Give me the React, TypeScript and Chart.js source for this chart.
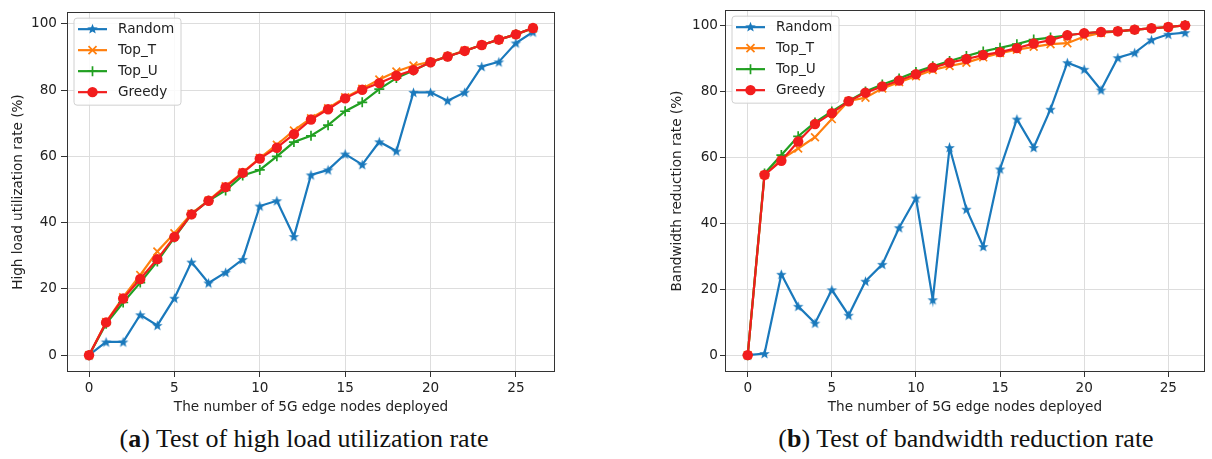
import React, { useEffect, useRef } from "react";
import { Chart, registerables } from "chart.js";

Chart.register(...registerables);

// ---------- data ----------
const NODES = [0, 1, 2, 3, 4, 5, 6, 7, 8, 9, 10, 11, 12, 13, 14, 15, 16, 17, 18, 19, 20, 21, 22, 23, 24, 25, 26];
const X_TICKS = [0, 5, 10, 15, 20, 25];
const Y_TICKS = [0, 20, 40, 60, 80, 100];
const SERIES_NAMES = ["Random", "Top_T", "Top_U", "Greedy"];

const A_RANDOM = [0, 4.0, 4.0, 12.2, 9.0, 17.2, 28.1, 21.8, 25.0, 28.9, 45.0, 46.6, 35.8, 54.4, 55.9, 60.7, 57.5, 64.4, 61.6, 79.3, 79.3, 76.8, 79.3, 87.1, 88.5, 94.2, 97.5];
const A_TOP_T = [0, 10.0, 17.5, 24.2, 31.3, 36.8, 42.7, 46.7, 51.0, 55.2, 59.5, 63.5, 67.8, 71.5, 74.5, 77.8, 80.4, 83.2, 85.6, 87.4, 88.5, 90.2, 91.9, 93.6, 95.2, 96.8, 98.6];
const A_TOP_U = [0, 9.5, 15.9, 21.9, 28.3, 35.5, 42.5, 46.6, 49.7, 54.2, 55.9, 60.0, 64.3, 66.2, 69.4, 73.6, 76.3, 80.3, 83.6, 85.9, 88.4, 90.1, 91.8, 93.6, 95.2, 96.8, 98.7];
const A_GREEDY = [0, 9.9, 17.1, 23.0, 29.0, 35.7, 42.5, 46.6, 50.7, 55.0, 59.3, 62.6, 66.7, 71.1, 74.2, 77.5, 80.1, 82.1, 84.3, 86.0, 88.4, 90.1, 91.8, 93.6, 95.2, 96.8, 98.7];

const B_RANDOM = [0, 0.5, 24.5, 14.8, 9.7, 19.8, 12.1, 22.4, 27.5, 38.6, 47.6, 16.8, 62.9, 44.2, 32.9, 56.4, 71.5, 62.9, 74.5, 88.6, 86.6, 80.3, 90.1, 91.6, 95.5, 97.2, 97.7];
const B_TOP_T = [0, 54.6, 59.3, 62.6, 66.0, 71.5, 77.0, 78.0, 80.8, 82.7, 84.5, 86.4, 87.6, 88.6, 90.2, 91.5, 92.5, 93.4, 94.2, 94.5, 96.5, 97.6, 98.1, 98.6, 99.0, 99.4, 99.9];
const B_TOP_U = [0, 55.0, 60.6, 66.3, 70.5, 73.8, 77.0, 79.9, 82.0, 83.8, 85.8, 87.5, 89.1, 90.6, 92.0, 93.1, 94.2, 95.6, 96.2, 96.9, 97.5, 97.9, 98.1, 98.6, 99.0, 99.4, 99.9];
const B_GREEDY = [0, 54.6, 58.9, 64.7, 70.0, 73.3, 76.9, 79.5, 81.4, 83.2, 85.1, 87.1, 88.6, 89.7, 90.9, 91.8, 93.0, 94.4, 95.4, 96.9, 97.5, 97.9, 98.1, 98.6, 99.0, 99.4, 99.9];

const X_TITLE = "The number of 5G edge nodes deployed";
const A_Y_TITLE = "High load utilization rate (%)";
const B_Y_TITLE = "Bandwidth reduction rate (%)";

// ---------- styles ----------
const COLORS = ["#1a79bc", "#ff7f0e", "#22a022", "#f21d1d"];
const MARKERS = ["star", "x", "+", "o"];
const FONT = "'DejaVu Sans', sans-serif";
const FS = 13.6;
const TEXT = "#222222";

function starPath(ctx: CanvasRenderingContext2D, cx: number, cy: number, r: number) {
  ctx.beginPath();
  for (let k = 0; k < 10; k++) {
    const rad = k % 2 === 0 ? r : r * 0.42;
    const ang = -Math.PI / 2 + (k * Math.PI) / 5;
    const px = cx + rad * Math.cos(ang);
    const py = cy + rad * Math.sin(ang);
    if (k === 0) ctx.moveTo(px, py);
    else ctx.lineTo(px, py);
  }
  ctx.closePath();
}

function makeStar(color: string, r: number) {
  const c = document.createElement("canvas");
  const s = Math.ceil(r * 2 + 2);
  c.width = s;
  c.height = s;
  const ctx = c.getContext("2d")!;
  starPath(ctx, s / 2, s / 2 + 0.5, r);
  ctx.fillStyle = color;
  ctx.fill();
  return c;
}

function drawMarker(ctx: CanvasRenderingContext2D, kind: string, x: number, y: number, color: string) {
  ctx.save();
  ctx.fillStyle = color;
  ctx.strokeStyle = color;
  ctx.lineWidth = 1.7;
  if (kind === "star") {
    starPath(ctx, x, y, 5.5);
    ctx.fill();
  } else if (kind === "x") {
    const d = 4;
    ctx.beginPath();
    ctx.moveTo(x - d, y - d);
    ctx.lineTo(x + d, y + d);
    ctx.moveTo(x - d, y + d);
    ctx.lineTo(x + d, y - d);
    ctx.stroke();
  } else if (kind === "+") {
    const d = 5;
    ctx.beginPath();
    ctx.moveTo(x - d, y);
    ctx.lineTo(x + d, y);
    ctx.moveTo(x, y - d);
    ctx.lineTo(x, y + d);
    ctx.stroke();
  } else {
    ctx.beginPath();
    ctx.arc(x, y, 5.2, 0, Math.PI * 2);
    ctx.fill();
  }
  ctx.restore();
}

const legendPlugin = {
  id: "mplLegend",
  afterDatasetsDraw(chart: any) {
    const { ctx, chartArea } = chart;
    const bx = chartArea.left + 7;
    const by = chartArea.top + 6;
    const bw = 107;
    const bh = 87;
    ctx.save();
    ctx.beginPath();
    const r = 3;
    ctx.moveTo(bx + r, by);
    ctx.lineTo(bx + bw - r, by);
    ctx.quadraticCurveTo(bx + bw, by, bx + bw, by + r);
    ctx.lineTo(bx + bw, by + bh - r);
    ctx.quadraticCurveTo(bx + bw, by + bh, bx + bw - r, by + bh);
    ctx.lineTo(bx + r, by + bh);
    ctx.quadraticCurveTo(bx, by + bh, bx, by + bh - r);
    ctx.lineTo(bx, by + r);
    ctx.quadraticCurveTo(bx, by, bx + r, by);
    ctx.closePath();
    ctx.fillStyle = "rgba(255,255,255,0.85)";
    ctx.fill();
    ctx.strokeStyle = "#d0d0d0";
    ctx.lineWidth = 1;
    ctx.stroke();
    SERIES_NAMES.forEach((name, i) => {
      const cy = by + 11 + i * 21;
      ctx.strokeStyle = COLORS[i];
      ctx.lineWidth = 2.2;
      ctx.beginPath();
      ctx.moveTo(bx + 4, cy);
      ctx.lineTo(bx + 33, cy);
      ctx.stroke();
      drawMarker(ctx, MARKERS[i], bx + 18.5, cy, COLORS[i]);
      ctx.fillStyle = TEXT;
      ctx.font = `${FS}px ${FONT}`;
      ctx.textBaseline = "middle";
      ctx.textAlign = "left";
      ctx.fillText(name, bx + 44, cy + 0.5);
    });
    ctx.restore();
  },
};

const framePlugin = {
  id: "mplFrame",
  afterDraw(chart: any) {
    const { ctx, chartArea } = chart;
    ctx.save();
    ctx.strokeStyle = "#333333";
    ctx.lineWidth = 1;
    ctx.strokeRect(
      Math.round(chartArea.left) + 0.5,
      Math.round(chartArea.top) + 0.5,
      Math.round(chartArea.right - chartArea.left) - 1,
      Math.round(chartArea.bottom - chartArea.top) - 1
    );
    ctx.restore();
  },
};

type Cfg = {
  series: number[][];
  yTitle: string;
  yMin: number;
  yMax: number;
  xMin: number;
  xMax: number;
  yWidth: number;
  yTitlePad: number;
  yTickPad: number;
  yTickLen: number;
  padRight: number;
};

function buildConfig(c: Cfg): any {
  const starImg = makeStar(COLORS[0], 5.5);
  const datasets = c.series.map((vals, i) => {
    const base: any = {
      label: SERIES_NAMES[i],
      data: NODES.map((x, k) => ({ x, y: vals[k] })),
      borderColor: COLORS[i],
      backgroundColor: COLORS[i],
      borderWidth: 2.2,
      tension: 0,
      order: 4 - i,
      pointBorderColor: COLORS[i],
      pointBackgroundColor: COLORS[i],
    };
    if (i === 0) {
      base.pointStyle = starImg;
      base.pointRadius = 5;
    } else if (i === 1) {
      base.pointStyle = "crossRot";
      base.pointRadius = 5.5;
      base.pointBorderWidth = 1.7;
    } else if (i === 2) {
      base.pointStyle = "cross";
      base.pointRadius = 5;
      base.pointBorderWidth = 1.7;
    } else {
      base.pointStyle = "circle";
      base.pointRadius = 5.2;
      base.pointBorderWidth = 0;
    }
    return base;
  });

  return {
    type: "line",
    data: { datasets },
    plugins: [legendPlugin, framePlugin],
    options: {
      animation: false,
      responsive: false,
      maintainAspectRatio: false,
      layout: { padding: { left: 0, top: 9, right: c.padRight, bottom: 0 } },
      plugins: { legend: { display: false }, tooltip: { enabled: false } },
      scales: {
        x: {
          type: "linear",
          min: c.xMin,
          max: c.xMax,
          afterBuildTicks: (s: any) => {
            s.ticks = X_TICKS.map((v) => ({ value: v }));
          },
          afterFit: (s: any) => {
            s.height = 48;
          },
          border: { display: false },
          grid: { color: "#dddddd", lineWidth: 1, tickLength: 5, tickColor: "#333333", tickWidth: 1 },
          ticks: { color: TEXT, font: { family: FONT, size: FS }, padding: 3, maxRotation: 0 },
          title: { display: true, text: X_TITLE, color: TEXT, font: { family: FONT, size: FS }, padding: { top: 2, bottom: 4 } },
        },
        y: {
          type: "linear",
          min: c.yMin,
          max: c.yMax,
          afterBuildTicks: (s: any) => {
            s.ticks = Y_TICKS.map((v) => ({ value: v }));
          },
          afterFit: (s: any) => {
            s.width = c.yWidth;
          },
          border: { display: false },
          grid: { color: "#dddddd", lineWidth: 1, tickLength: c.yTickLen, tickColor: "#333333", tickWidth: 1 },
          ticks: { color: TEXT, font: { family: FONT, size: FS }, padding: c.yTickPad },
          title: { display: true, text: c.yTitle, color: TEXT, font: { family: FONT, size: FS }, padding: { top: c.yTitlePad, bottom: 0 } },
        },
      },
    },
  };
}

function ChartCanvas(props: { cfg: Cfg; left: number; width: number; height: number }) {
  const ref = useRef<HTMLCanvasElement | null>(null);
  useEffect(() => {
    if (!ref.current) return;
    const chart = new Chart(ref.current, buildConfig(props.cfg));
    return () => chart.destroy();
  }, []);
  return (
    <canvas
      ref={ref}
      width={props.width}
      height={props.height}
      style={{ position: "absolute", left: props.left, top: 0, width: props.width, height: props.height }}
    />
  );
}

const captionStyle: React.CSSProperties = {
  position: "absolute",
  top: 424,
  width: 440,
  textAlign: "center",
  fontFamily: "'Liberation Serif', 'Times New Roman', serif",
  fontSize: 26,
  lineHeight: "30px",
  color: "#111",
  whiteSpace: "nowrap",
};

export default function App() {
  const cfgA: Cfg = {
    series: [A_RANDOM, A_TOP_T, A_TOP_U, A_GREEDY],
    yTitle: A_Y_TITLE,
    yMin: -5.07,
    yMax: 103.5,
    xMin: -1.29,
    xMax: 27.29,
    yWidth: 67,
    yTitlePad: 10,
    yTickPad: 4,
    yTickLen: 6,
    padRight: 45,
  };
  const cfgB: Cfg = {
    series: [B_RANDOM, B_TOP_T, B_TOP_U, B_GREEDY],
    yTitle: B_Y_TITLE,
    yMin: -5.1,
    yMax: 104.5,
    xMin: -1.35,
    xMax: 27.17,
    yWidth: 65,
    yTitlePad: 9,
    yTickPad: 2,
    yTickLen: 5,
    padRight: 0,
  };
  return (
    <div style={{ position: "absolute", left: 0, top: 0, width: 1212, height: 459, background: "#fff", overflow: "hidden" }}>
      <ChartCanvas cfg={cfgA} left={0} width={600} height={420} />
      <ChartCanvas cfg={cfgB} left={660} width={552} height={420} />
      <div style={{ ...captionStyle, left: 304 - 220 }}>
        (<b>a</b>) Test of high load utilization rate
      </div>
      <div style={{ ...captionStyle, left: 966 - 220 }}>
        (<b>b</b>) Test of bandwidth reduction rate
      </div>
    </div>
  );
}
